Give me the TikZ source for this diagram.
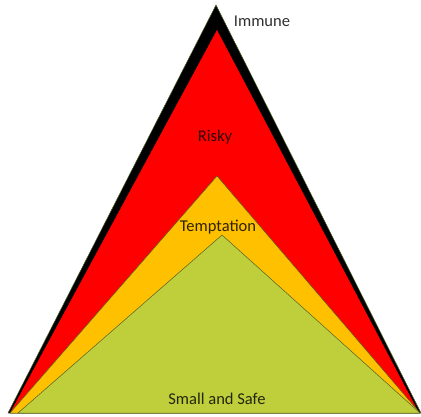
\documentclass[tikz,border=0pt]{standalone}
\usepackage{fontspec}
\setmainfont{Carlito}
\definecolor{riskred}{RGB}{255,0,0}
\definecolor{tempt}{RGB}{255,192,0}
\definecolor{safegreen}{RGB}{191,207,60}
\definecolor{rim}{RGB}{79,98,40}
\begin{document}
\begin{tikzpicture}[
  x=1pt, y=-1pt,
  band/.style={draw=rim, line width=0.5pt, line join=round},
  tag/.style={font=\fontsize{16.5}{18}\selectfont, text opacity=0.82, inner sep=0pt}
]
  \useasboundingbox (0,0) rectangle (421,416);

  \filldraw[band, fill=black] (216,5) -- (8,413) -- (421,413) -- cycle;
  \fill[riskred] (217,30) -- (10,413) -- (419,413) -- cycle;
  \filldraw[band, fill=tempt] (217,176) -- (10,413) -- (420,413) -- cycle;
  \filldraw[band, fill=safegreen] (222,235) -- (18,413) -- (420,413) -- cycle;

  \node[tag] (immune) at (262,21) {Immune};
  \node[tag] (risky) at (215,137) {Risky};
  \node[tag] (temptation) at (218,227) {Temptation};
  \node[tag] (safe) at (217,399) {Small and Safe};
\end{tikzpicture}
\end{document}
